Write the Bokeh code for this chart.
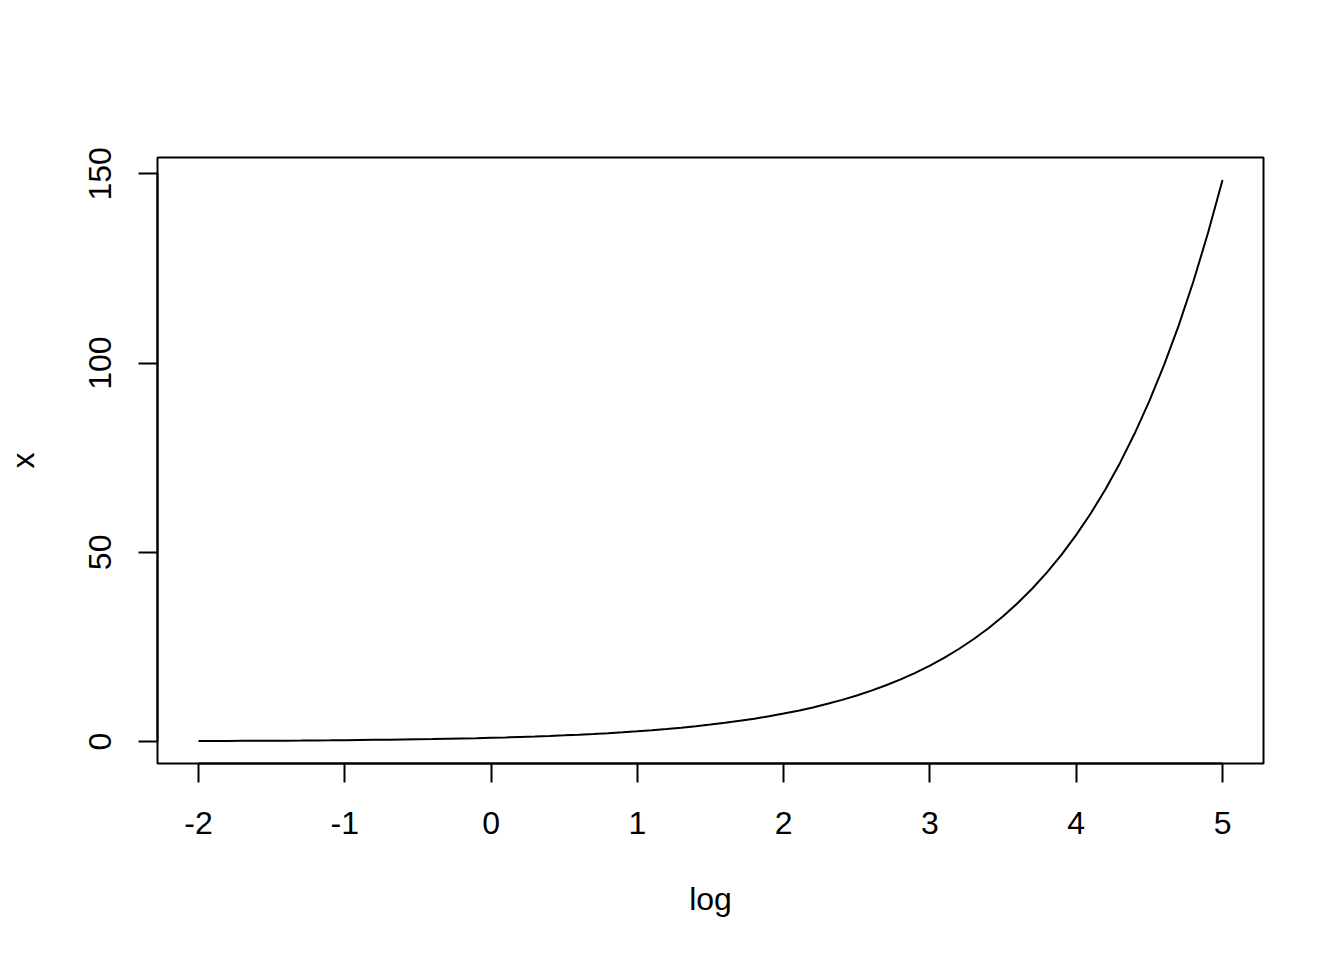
from bokeh.plotting import figure
from bokeh.models import Range1d, FixedTicker, ColumnDataSource
from bokeh.embed import file_html
from bokeh.resources import INLINE

log_vals = [-2.0, -1.9, -1.8, -1.7, -1.6, -1.5, -1.4, -1.3, -1.2, -1.1,
            -1.0, -0.9, -0.8, -0.7, -0.6, -0.5, -0.4, -0.3, -0.2, -0.1,
            0.0, 0.1, 0.2, 0.3, 0.4, 0.5, 0.6, 0.7, 0.8, 0.9,
            1.0, 1.1, 1.2, 1.3, 1.4, 1.5, 1.6, 1.7, 1.8, 1.9,
            2.0, 2.1, 2.2, 2.3, 2.4, 2.5, 2.6, 2.7, 2.8, 2.9,
            3.0, 3.1, 3.2, 3.3, 3.4, 3.5, 3.6, 3.7, 3.8, 3.9,
            4.0, 4.1, 4.2, 4.3, 4.4, 4.5, 4.6, 4.7, 4.8, 4.9, 5.0]
x_vals = [0.135, 0.150, 0.165, 0.183, 0.202, 0.223, 0.247, 0.273, 0.301, 0.333,
          0.368, 0.407, 0.449, 0.497, 0.549, 0.607, 0.670, 0.741, 0.819, 0.905,
          1.0, 1.105, 1.221, 1.350, 1.492, 1.649, 1.822, 2.014, 2.226, 2.460,
          2.718, 3.004, 3.320, 3.669, 4.055, 4.482, 4.953, 5.474, 6.050, 6.686,
          7.389, 8.166, 9.025, 9.974, 11.02, 12.18, 13.46, 14.88, 16.44, 18.17,
          20.09, 22.20, 24.53, 27.11, 29.96, 33.12, 36.60, 40.45, 44.70, 49.40,
          54.60, 60.34, 66.69, 73.70, 81.45, 90.02, 99.48, 109.9, 121.5, 134.3, 148.4]
x_ticks = [-2, -1, 0, 1, 2, 3, 4, 5]
y_ticks = [0, 50, 100, 150]

FONT = "Liberation Sans"

xmin, xmax = min(log_vals), max(log_vals)
ymin, ymax = min(x_vals), max(x_vals)
xpad = 0.04 * (xmax - xmin)
ypad = 0.04 * (ymax - ymin)

p = figure(width=1328, height=944, output_backend="svg", toolbar_location=None,
           x_range=Range1d(xmin - xpad, xmax + xpad),
           y_range=Range1d(ymin - ypad, ymax + ypad),
           min_border_left=157, min_border_right=65,
           min_border_top=157, min_border_bottom=181)
p.background_fill_color = "white"
p.border_fill_color = "white"
p.grid.visible = False
p.outline_line_color = "black"
p.outline_line_width = 2

src = ColumnDataSource(dict(x=log_vals, y=x_vals))
p.line("x", "y", source=src, line_color="black", line_width=2)

for ax, ticks in ((p.xaxis[0], x_ticks), (p.yaxis[0], y_ticks)):
    ax.ticker = FixedTicker(ticks=ticks)
    ax.bounds = (min(ticks), max(ticks))
    ax.major_label_overrides = {t: str(t) for t in ticks}
    ax.minor_tick_line_color = None
    ax.major_tick_in = 0
    ax.major_tick_out = 19
    ax.major_tick_line_width = 2
    ax.axis_line_width = 2
    ax.axis_line_color = "black"
    ax.major_tick_line_color = "black"
    ax.major_label_text_font = FONT
    ax.major_label_text_font_size = "32px"
    ax.major_label_text_color = "black"
    ax.axis_label_text_font = FONT
    ax.axis_label_text_font_size = "32px"
    ax.axis_label_text_font_style = "normal"
    ax.axis_label_text_color = "black"

p.xaxis[0].axis_label = "log"
p.yaxis[0].axis_label = "x"
p.xaxis[0].major_label_standoff = 29
p.yaxis[0].major_label_standoff = 27
p.yaxis[0].major_label_orientation = "vertical"
p.xaxis[0].axis_label_standoff = 44
p.yaxis[0].axis_label_standoff = 46

open("out.html", "w").write(file_html(p, INLINE))
